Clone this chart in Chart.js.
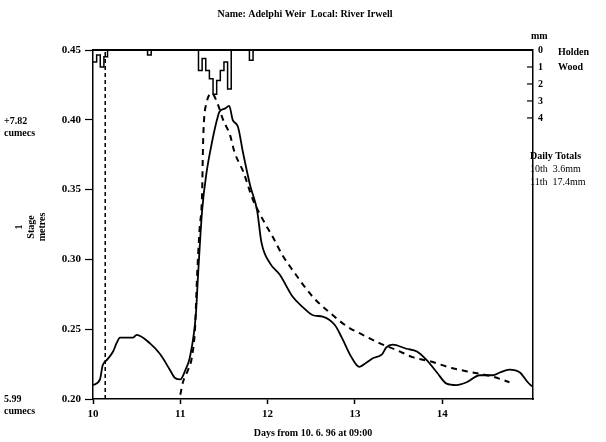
<!DOCTYPE html>
<html>
<head>
<meta charset="utf-8">
<script src="https://cdn.jsdelivr.net/npm/chart.js@4/dist/chart.umd.min.js"></script>
<style>
  html, body { margin: 0; padding: 0; background: #fff; }
  #wrap { width: 606px; height: 442px; }
</style>
</head>
<body>
<div id="wrap"><canvas id="stageChart" width="606" height="442"></canvas></div>
<script>
// observed stage (solid line), days from 10.6.96 09:00
const obsDays = [10.00, 10.08, 10.11, 10.16, 10.23, 10.27, 10.31, 10.39, 10.46, 10.50, 10.65, 10.77, 10.88, 10.94, 11.00,
  11.06, 11.11, 11.18, 11.20, 11.25, 11.30, 11.36, 11.42, 11.45, 11.51, 11.56, 11.60, 11.66, 11.72, 11.80, 11.88, 11.93,
  12.03, 12.14, 12.29, 12.40, 12.52, 12.63, 12.77, 12.85, 12.96, 13.05, 13.13, 13.20, 13.31, 13.36, 13.43, 13.59, 13.71,
  13.82, 13.94, 14.05, 14.16, 14.28, 14.43, 14.58, 14.66, 14.77, 14.89, 14.98, 15.03];
const obsStage = [0.210, 0.214, 0.224, 0.228, 0.234, 0.240, 0.244, 0.244, 0.244, 0.246, 0.240, 0.232, 0.221, 0.215, 0.214,
  0.221, 0.230, 0.262, 0.285, 0.335, 0.362, 0.383, 0.400, 0.406, 0.408, 0.410, 0.400, 0.395, 0.376, 0.353, 0.335, 0.312,
  0.297, 0.289, 0.273, 0.266, 0.260, 0.259, 0.253, 0.244, 0.230, 0.223, 0.226, 0.229, 0.232, 0.237, 0.239, 0.236, 0.234,
  0.228, 0.219, 0.211, 0.210, 0.212, 0.217, 0.217, 0.219, 0.221, 0.219, 0.212, 0.209];

// modelled stage (dashed line)
const modDays = [11.00, 11.03, 11.09, 11.13, 11.17, 11.19, 11.22, 11.25, 11.26, 11.27, 11.30, 11.36, 11.43, 11.49, 11.57,
  11.62, 11.72, 11.83, 11.95, 12.06, 12.17, 12.29, 12.52, 12.71, 12.91, 13.09, 13.28, 13.48, 13.66, 13.86, 14.12, 14.35,
  14.58, 14.77];
const modStage = [0.203, 0.212, 0.221, 0.229, 0.252, 0.285, 0.321, 0.348, 0.381, 0.398, 0.412, 0.419, 0.411, 0.400, 0.389,
  0.377, 0.363, 0.343, 0.328, 0.316, 0.303, 0.292, 0.273, 0.262, 0.252, 0.246, 0.240, 0.235, 0.230, 0.227, 0.222, 0.219,
  0.216, 0.212];

// forecast marker (dashed vertical)
const markerDay = 10.14;

// hourly rainfall at Holden Wood, mm, from hour 0 (10th 09:00)
const rainMm = [0.7, 0.3, 1.0, 0.4, 0, 0, 0, 0, 0, 0, 0, 0, 0, 0, 0, 0.3, 0, 0, 0, 0, 0, 0, 0, 0,
  0, 0, 0, 0, 0, 1.2, 0.5, 1.2, 1.7, 2.6, 1.8, 1.2, 0.7, 2.3, 0, 0, 0, 0, 0, 0.6, 0, 0, 0, 0, 0];

const dayTicks = [10, 11, 12, 13, 14];
const stageTicks = [0.20, 0.25, 0.30, 0.35, 0.40, 0.45];
const rainTicks = [0, 1, 2, 3, 4];
const dailyTotals = ['10th  3.6mm', '11th  17.4mm'];

const SERIF = '"Liberation Serif", "DejaVu Serif", serif';

const rainPoints = rainMm.map((v, h) => ({ x: 10 + h / 24, y: v }));
rainPoints.push({ x: 10 + rainMm.length / 24, y: 0 });

const decorations = {
  id: 'decorations',
  afterDraw(chart) {
    const { ctx, chartArea } = chart;
    const y2 = chart.scales.y2;
    ctx.save();
    ctx.fillStyle = '#000';
    ctx.strokeStyle = '#000';

    // top border
    ctx.lineWidth = 2;
    ctx.beginPath();
    ctx.moveTo(chartArea.left, chartArea.top);
    ctx.lineTo(chartArea.right, chartArea.top);
    ctx.stroke();

    // inward ticks on the rainfall axis
    ctx.lineWidth = 1.2;
    rainTicks.forEach(t => {
      const py = y2.getPixelForValue(t);
      ctx.beginPath();
      ctx.moveTo(chartArea.right - 6, py);
      ctx.lineTo(chartArea.right, py);
      ctx.stroke();
    });

    ctx.textBaseline = 'middle';
    ctx.textAlign = 'center';
    ctx.font = 'bold 10px ' + SERIF;
    ctx.fillText('Name: Adelphi Weir  Local: River Irwell', 305, 14);

    ctx.textAlign = 'left';
    ctx.fillText('mm', 531, 36);
    ctx.fillText('Holden', 558, y2.getPixelForValue(0) + 2);
    ctx.fillText('Wood', 558, y2.getPixelForValue(1));

    ctx.fillText('Daily Totals', 530, 156);
    ctx.font = '10px ' + SERIF;
    dailyTotals.forEach((s, i) => ctx.fillText(s, 530, 169 + i * 13));

    ctx.font = 'bold 10px ' + SERIF;
    ctx.fillText('+7.82', 4, 121);
    ctx.fillText('cumecs', 4, 133);
    ctx.fillText('5.99', 4, 399);
    ctx.fillText('cumecs', 4, 411);

    // rotated axis labels
    ctx.textAlign = 'center';
    [['1', 19], ['Stage', 31], ['metres', 42]].forEach(([s, px]) => {
      ctx.save();
      ctx.translate(px, 227);
      ctx.rotate(-Math.PI / 2);
      ctx.fillText(s, 0, 0);
      ctx.restore();
    });
    ctx.restore();
  }
};

new Chart(document.getElementById('stageChart'), {
  type: 'line',
  data: {
    datasets: [{
      label: 'Observed',
      data: obsDays.map((d, i) => ({ x: d, y: obsStage[i] })),
      borderColor: '#000',
      borderWidth: 1.8,
      pointRadius: 0,
      cubicInterpolationMode: 'monotone',
      fill: false
    }, {
      label: 'Modelled',
      data: modDays.map((d, i) => ({ x: d, y: modStage[i] })),
      borderColor: '#000',
      borderWidth: 2,
      borderDash: [6, 5],
      pointRadius: 0,
      cubicInterpolationMode: 'monotone',
      fill: false
    }, {
      label: 'Marker',
      data: [{ x: markerDay, y: 0.20 }, { x: markerDay, y: 0.45 }],
      borderColor: '#000',
      borderWidth: 1.5,
      borderDash: [4, 3],
      pointRadius: 0,
      fill: false
    }, {
      label: 'Rain',
      data: rainPoints,
      yAxisID: 'y2',
      stepped: true,
      borderColor: '#000',
      borderWidth: 1.5,
      pointRadius: 0,
      fill: false
    }]
  },
  options: {
    responsive: false,
    animation: false,
    layout: { padding: { left: 0, right: 0, top: 50, bottom: 0 } },
    plugins: { legend: { display: false }, tooltip: { enabled: false } },
    scales: {
      x: {
        type: 'linear',
        min: 10,
        max: 15.04,
        afterBuildTicks: s => { s.ticks = dayTicks.map(v => ({ value: v })); },
        afterFit: s => { s.height = 43; },
        grid: { drawOnChartArea: false, tickLength: 5, color: '#000', tickWidth: 1.5 },
        border: { display: true, color: '#000', width: 1.5 },
        ticks: { color: '#000', font: { family: SERIF, size: 11, weight: 'bold' }, padding: 4 },
        title: {
          display: true,
          text: 'Days from 10. 6. 96 at 09:00',
          color: '#000',
          font: { family: SERIF, size: 10, weight: 'bold' },
          padding: { top: 0, bottom: 3 }
        }
      },
      y: {
        position: 'left',
        min: 0.20,
        max: 0.45,
        afterBuildTicks: s => { s.ticks = stageTicks.map(v => ({ value: v })); },
        afterFit: s => { s.width = 93; },
        grid: { drawOnChartArea: false, tickLength: 8, color: '#000', tickWidth: 1.2 },
        border: { display: true, color: '#000', width: 1.5 },
        ticks: {
          color: '#000',
          padding: 4,
          font: { family: SERIF, size: 11, weight: 'bold' },
          callback: v => v.toFixed(2)
        }
      },
      y2: {
        position: 'right',
        reverse: true,
        min: 0,
        max: 20.55,
        afterBuildTicks: s => { s.ticks = rainTicks.map(v => ({ value: v })); },
        afterFit: s => { s.width = 73; },
        grid: { drawOnChartArea: false, drawTicks: false },
        border: { display: true, color: '#000', width: 1.5 },
        ticks: { color: '#000', padding: 5, font: { family: SERIF, size: 10, weight: 'bold' } }
      }
    }
  },
  plugins: [decorations]
});
</script>
</body>
</html>
